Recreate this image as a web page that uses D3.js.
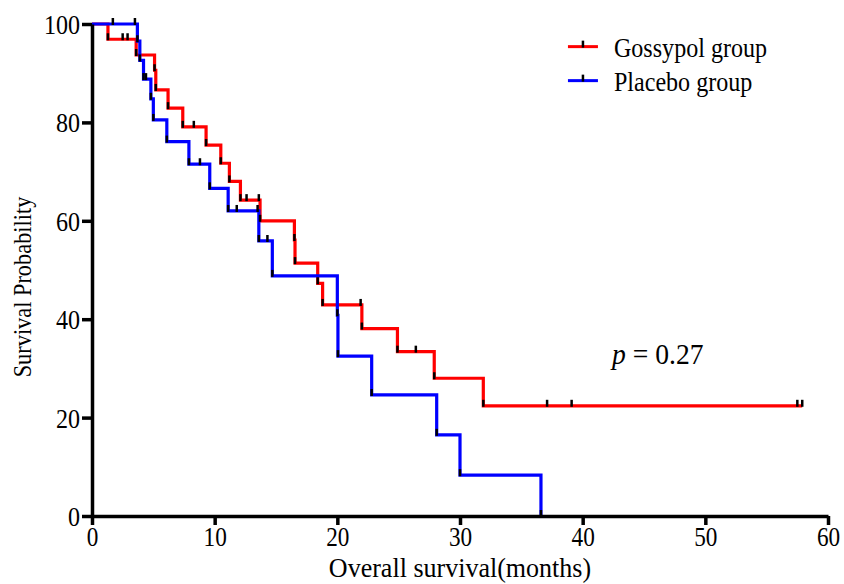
<!DOCTYPE html>
<html>
<head>
<meta charset="utf-8">
<script src="https://cdn.jsdelivr.net/npm/d3@7"></script>
<style>
  body { margin: 0; background: #fff; }
  text { font-family: "Liberation Serif", "Times New Roman", serif; fill: #000; }
</style>
</head>
<body>
<div id="km-chart"></div>
<script>
// Gossypol group: step times (months) and survival (%)
const gossypolTimes = [0, 1.3, 3.6, 5.1, 5.2, 6.2, 7.4, 9.3, 10.5, 11.2, 12.1, 13.7, 16.5, 16.55, 18.4, 18.8, 22.0, 24.9, 27.9, 31.9];
const gossypolSurv  = [100, 96.9, 93.7, 90.6, 86.6, 82.9, 79.1, 75.4, 71.7, 68.0, 64.2, 60.0, 56.1, 51.4, 47.3, 42.9, 38.1, 33.4, 28.0, 22.4];
const gossypolLastFollowUp = 57.9;
const gossypolCensored = [[2.5, 96.9], [2.9, 96.9], [8.3, 79.1], [12.6, 64.2], [13.6, 64.2], [21.9, 42.9], [26.4, 33.4], [37.1, 22.4], [39.1, 22.4], [57.5, 22.4], [57.9, 22.4]];

// Placebo group
const placeboTimes = [0, 3.7, 3.9, 4.2, 4.8, 5.0, 6.1, 7.9, 9.6, 11.1, 13.6, 14.7, 20.0, 20.05, 22.8, 28.1, 30.0, 36.6];
const placeboSurv  = [100, 96.5, 92.6, 88.8, 84.8, 80.5, 76.1, 71.5, 66.6, 62.0, 55.9, 48.8, 40.8, 32.5, 24.6, 16.5, 8.3, 0];
const placeboCensored = [[1.7, 100], [3.5, 100], [4.4, 88.8], [8.8, 71.5], [11.8, 62.0], [13.5, 62.0], [14.3, 55.9]];

const xTicks = [0, 10, 20, 30, 40, 50, 60];
const yTicks = [0, 20, 40, 60, 80, 100];
const groups = ["Gossypol group", "Placebo group"];
const colors = ["#ff0000", "#0000ff"];
const pLabel = "0.27";

const margin = { top: 24, right: 16, bottom: 68, left: 92 };
const width = 844 - margin.left - margin.right;
const height = 584 - margin.top - margin.bottom;
const squeeze = 0.86; // the original lettering is narrow and tall

const svg = d3.select("#km-chart")
    .append("svg")
    .attr("width", 844)
    .attr("height", 584)
  .append("g")
    .attr("transform", `translate(${margin.left},${margin.top})`);

const x = d3.scaleLinear().domain([0, 60]).range([0, width]);
const y = d3.scaleLinear().domain([0, 100]).range([height, 0]);

const line = d3.line()
    .x(d => x(d[0]))
    .y(d => y(d[1]))
    .curve(d3.curveStepAfter);

const gossypolPts = gossypolTimes.map((t, i) => [t, gossypolSurv[i]]);
gossypolPts.push([gossypolLastFollowUp, gossypolSurv[gossypolSurv.length - 1]]);
const placeboPts = placeboTimes.map((t, i) => [t, placeboSurv[i]]);

const series = [
    { pts: gossypolPts, marks: gossypolPts.slice(1, -1).concat(gossypolCensored), color: colors[0] },
    { pts: placeboPts, marks: placeboPts.slice(1).concat(placeboCensored), color: colors[1] }
];

series.forEach(s => {
    svg.append("path")
        .datum(s.pts)
        .attr("d", line)
        .style("fill", "none")
        .style("stroke", s.color)
        .style("stroke-width", 3.2);
});

// little black marks (events at step bottoms + censored ticks)
series.forEach(s => {
    svg.append("g").selectAll("line")
        .data(s.marks)
        .enter().append("line")
        .attr("x1", d => x(d[0]))
        .attr("x2", d => x(d[0]))
        .attr("y1", d => y(d[1]) + 1)
        .attr("y2", d => y(d[1]) - 6)
        .style("stroke", "#000")
        .style("stroke-width", 2.5);
});

// axes
const xAxis = svg.append("g")
    .attr("transform", `translate(0,${height})`)
    .call(d3.axisBottom(x).tickValues(xTicks).tickSize(9).tickSizeOuter(0));

const yAxis = svg.append("g")
    .call(d3.axisLeft(y).tickValues(yTicks).tickSize(10).tickSizeOuter(0));

[xAxis, yAxis].forEach(a => {
    a.select(".domain").style("stroke", "#000").style("stroke-width", 3.5);
    a.selectAll(".tick line").style("stroke", "#000").style("stroke-width", 3.5);
    a.selectAll(".tick text")
        .style("font-family", "'Liberation Serif', 'Times New Roman', serif")
        .style("font-size", "28px")
        .attr("transform", `scale(${squeeze},1)`);
});
xAxis.selectAll(".tick text").style("font-size", "27px").attr("y", 30).attr("dy", null);
yAxis.selectAll(".tick text").attr("x", -12 / squeeze).attr("dy", "0.34em");

// condensed text helper
const label = (px, py, str, size, sx, rot) => {
    const g = svg.append("g")
        .attr("transform", `translate(${px},${py})${rot ? " rotate(" + rot + ")" : ""} scale(${sx},1)`);
    return g.append("text").style("font-size", size + "px").text(str);
};

label(width / 2, height + 61, "Overall survival(months)", 28, 0.93).attr("text-anchor", "middle");
label(31 - margin.left, 287 - margin.top, "Survival Probability", 26, squeeze, -90).attr("text-anchor", "middle");

// legend
const legend = svg.append("g")
    .attr("transform", `translate(${x(38.8)}, ${y(95.4)})`);

groups.forEach((g, i) => {
    const row = legend.append("g").attr("transform", `translate(0, ${i * 34})`);
    row.append("line")
        .attr("x1", 0).attr("x2", 30)
        .style("stroke", colors[i])
        .style("stroke-width", 3);
    row.append("line")
        .attr("x1", 15).attr("x2", 15)
        .attr("y1", 1).attr("y2", -6)
        .style("stroke", "#000")
        .style("stroke-width", 2.5);
    row.append("g")
        .attr("transform", `translate(46,10) scale(${squeeze},1)`)
        .append("text")
        .style("font-size", "28px")
        .text(g);
});

const pText = label(x(42.4), 364 - margin.top, "", 30, 0.92);
pText.append("tspan").style("font-style", "italic").text("p");
pText.append("tspan").text(" = " + pLabel);
</script>
</body>
</html>
